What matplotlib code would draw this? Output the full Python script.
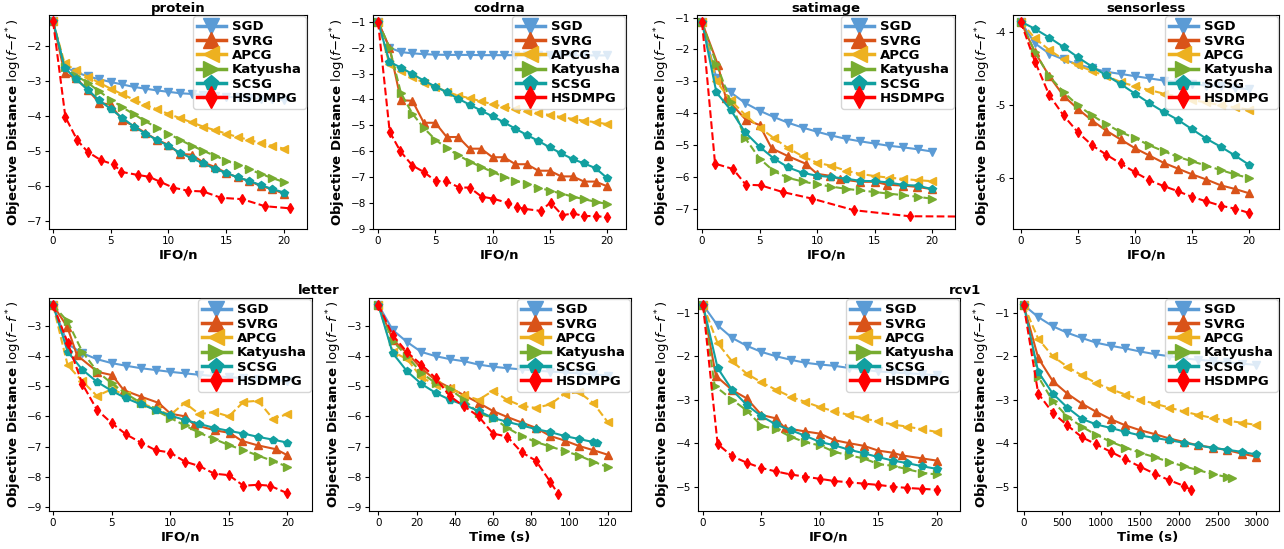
import numpy as np
import matplotlib
matplotlib.use("Agg")
import matplotlib.pyplot as plt

methods = ["SGD", "SVRG", "APCG", "Katyusha", "SCSG", "HSDMPG"]
colors = ["#5b9bd5", "#d95319", "#edb120", "#77ac30", "#11a0a0", "#ff0000"]
styles = ["-", "-", "--", "--", "-", "--"]
markers = ["v", "^", "<", ">", "p", "d"]

# ---- protein (IFO/n) ----
x_int = list(range(21))
protein_x = {m: x_int for m in methods[:5]}
protein_x["HSDMPG"] = [0, 1.07, 2.1, 3.0, 4.15, 5.25, 5.9, 7.35, 8.3, 9.25, 10.4, 11.7,
                       13.0, 14.55, 16.4, 18.35, 20.5]
protein_y = {
    "SGD": [-1.3, -2.6, -2.75, -2.87, -2.95, -3.03, -3.1, -3.17, -3.22, -3.27, -3.31,
            -3.35, -3.37, -3.40, -3.43, -3.45, -3.47, -3.49, -3.51, -3.52, -3.54],
    "SVRG": [-1.3, -2.78, -2.93, -3.25, -3.62, -3.68, -4.12, -4.28, -4.48, -4.68, -4.82,
             -5.08, -5.1, -5.32, -5.45, -5.62, -5.75, -5.85, -6.0, -6.08, -6.22],
    "APCG": [-1.3, -2.5, -2.7, -2.88, -3.05, -3.22, -3.38, -3.53, -3.68, -3.81, -3.94,
             -4.06, -4.18, -4.3, -4.4, -4.5, -4.6, -4.68, -4.77, -4.85, -4.93],
    "Katyusha": [-1.3, -2.6, -2.85, -3.05, -3.3, -3.53, -3.75, -3.95, -4.15, -4.33, -4.5,
                 -4.68, -4.84, -4.99, -5.13, -5.27, -5.4, -5.52, -5.65, -5.77, -5.88],
    "SCSG": [-1.3, -2.62, -2.95, -3.25, -3.55, -3.8, -4.05, -4.3, -4.5, -4.68, -4.85,
             -5.05, -5.2, -5.35, -5.5, -5.62, -5.75, -5.85, -5.97, -6.08, -6.18],
    "HSDMPG": [-1.3, -4.03, -4.69, -5.02, -5.26, -5.38, -5.59, -5.68, -5.73, -5.87, -6.04,
               -6.13, -6.15, -6.33, -6.37, -6.57, -6.63],
}

# ---- codrna (IFO/n) ----
codrna_x = {m: x_int for m in methods[:5]}
codrna_x["HSDMPG"] = [0, 1.02, 1.95, 3.0, 4.0, 5.04, 5.98, 7.08, 8.0, 9.04, 10.06, 11.37,
                      12.1, 12.74, 14.2, 15.07, 16.1, 17.0, 18.0, 19.04, 20.03]
codrna_y = {
    "SGD": [-1.0, -2.0, -2.17, -2.22, -2.25, -2.27, -2.28, -2.28, -2.28, -2.29, -2.29,
            -2.29, -2.29, -2.3, -2.3, -2.3, -2.3, -2.3, -2.3, -2.3, -2.3],
    "SVRG": [-1.0, -2.0, -4.03, -4.05, -4.9, -4.9, -5.45, -5.45, -5.9, -5.9, -6.23,
             -6.23, -6.5, -6.5, -6.75, -6.75, -6.97, -6.97, -7.17, -7.17, -7.35],
    "APCG": [-1.0, -2.65, -2.9, -3.15, -3.35, -3.5, -3.7, -3.85, -3.95, -4.07, -4.18,
             -4.28, -4.37, -4.45, -4.53, -4.6, -4.68, -4.75, -4.82, -4.88, -4.95],
    "Katyusha": [-1.0, -2.0, -3.75, -4.55, -5.1, -5.55, -5.88, -6.15, -6.4, -6.6, -6.8,
                 -6.98, -7.13, -7.27, -7.4, -7.52, -7.63, -7.75, -7.85, -7.95, -8.03],
    "SCSG": [-1.0, -2.55, -2.77, -3.02, -3.27, -3.5, -3.72, -3.97, -4.2, -4.43, -4.65,
             -4.88, -5.13, -5.37, -5.6, -5.85, -6.08, -6.3, -6.47, -6.65, -7.03],
    "HSDMPG": [-1.0, -5.25, -6.0, -6.55, -6.8, -7.15, -7.15, -7.4, -7.4, -7.75, -7.83,
               -8.0, -8.15, -8.22, -8.3, -7.98, -8.47, -8.4, -8.5, -8.5, -8.55],
}

# ---- satimage (IFO/n) ----
x_q = [0, 1.25, 2.5, 3.75, 5, 6.25, 7.5, 8.75, 10, 11.25, 12.5, 13.75, 15, 16.25,
       17.5, 18.75, 20]
satimage_x = {m: x_q for m in methods}
satimage_x["SVRG"] = [0, 1.4, 2.06, 3.8, 5.0, 6.05, 7.5, 9.0, 10.0, 11.1, 12.0, 13.75,
                      15.05, 16.1, 17.5, 18.7, 20]
satimage_x["HSDMPG"] = [0, 1.13, 2.7, 3.8, 5.1, 7.0, 9.6, 13.2, 18.05, 23.0]
satimage_y = {
    "SGD": [-1.15, -2.9, -3.35, -3.68, -3.92, -4.12, -4.3, -4.45, -4.58, -4.7, -4.8,
            -4.88, -4.95, -5.02, -5.07, -5.13, -5.2],
    "SVRG": [-1.15, -2.5, -3.52, -4.2, -4.37, -5.1, -5.35, -5.58, -5.9, -5.96, -6.07,
             -6.15, -6.15, -6.24, -6.27, -6.31, -6.38],
    "APCG": [-1.15, -3.0, -3.6, -4.05, -4.45, -4.78, -5.1, -5.35, -5.55, -5.65, -5.8,
             -5.9, -5.97, -6.02, -6.06, -6.1, -6.13],
    "Katyusha": [-1.15, -2.45, -3.65, -4.78, -5.42, -5.82, -6.03, -6.14, -6.23, -6.3,
                 -6.37, -6.42, -6.47, -6.52, -6.57, -6.62, -6.68],
    "SCSG": [-1.15, -3.35, -3.9, -4.6, -5.05, -5.42, -5.7, -5.87, -5.96, -6.0, -6.05,
             -6.12, -6.13, -6.17, -6.25, -6.27, -6.38],
    "HSDMPG": [-1.15, -5.58, -5.75, -6.24, -6.26, -6.47, -6.68, -7.04, -7.23, -7.24],
}

# ---- sensorless (IFO/n) ----
sensorless_x = {m: x_q for m in methods}
sensorless_y = {
    "SGD": [-3.85, -4.15, -4.29, -4.37, -4.44, -4.49, -4.54, -4.57, -4.6, -4.63, -4.66,
            -4.68, -4.71, -4.73, -4.74, -4.76, -4.78],
    "SVRG": [-3.85, -4.27, -4.6, -4.87, -5.05, -5.21, -5.35, -5.47, -5.59, -5.69, -5.79,
             -5.87, -5.95, -6.02, -6.1, -6.15, -6.21],
    "APCG": [-3.85, -4.08, -4.24, -4.37, -4.45, -4.53, -4.6, -4.68, -4.74, -4.79, -4.84,
             -4.88, -4.93, -4.96, -5.0, -5.03, -5.06],
    "Katyusha": [-3.85, -4.27, -4.6, -4.82, -5.0, -5.14, -5.26, -5.37, -5.45, -5.55,
                 -5.63, -5.71, -5.77, -5.83, -5.89, -5.95, -6.0],
    "SCSG": [-3.85, -3.95, -4.07, -4.2, -4.34, -4.47, -4.59, -4.71, -4.84, -4.97, -5.09,
             -5.2, -5.33, -5.46, -5.57, -5.69, -5.82],
    "HSDMPG": [-3.85, -4.4, -4.86, -5.14, -5.37, -5.55, -5.68, -5.8, -5.92, -6.03, -6.11,
               -6.18, -6.26, -6.32, -6.38, -6.42, -6.48],
}

# ---- letter (IFO/n) ----
letter_x = {m: x_q for m in methods}
letter_x["SVRG"] = [0, 1.22, 2.05, 3.79, 5.04, 6.04, 7.55, 9.0, 10.03, 11.28, 12.05,
                    13.8, 15.1, 16.1, 17.46, 19.03, 20]
letter_x["HSDMPG"] = [0, 1.25, 2.5, 3.75, 5, 6.25, 7.5, 8.75, 10, 11.25, 12.5, 13.75,
                      15, 16.25, 17.5, 18.5, 20]
letter_y = {
    "SGD": [-2.3, -3.6, -3.9, -4.1, -4.23, -4.32, -4.4, -4.46, -4.52, -4.57, -4.62,
            -4.66, -4.7, -4.73, -4.76, -4.79, -4.82],
    "SVRG": [-2.3, -3.03, -3.97, -4.52, -4.63, -5.13, -5.35, -5.55, -5.91, -6.0, -6.28,
             -6.46, -6.55, -6.81, -6.96, -7.09, -7.29],
    "APCG": [-2.3, -4.3, -4.83, -5.32, -5.1, -5.3, -5.55, -5.75, -5.95, -5.55, -5.93,
             -5.85, -6.0, -5.52, -5.48, -6.07, -5.93],
    "Katyusha": [-2.3, -2.85, -3.85, -4.5, -4.9, -5.25, -5.55, -5.8, -6.05, -6.3, -6.55,
                 -6.75, -6.95, -7.12, -7.3, -7.48, -7.67],
    "SCSG": [-2.3, -3.85, -4.45, -4.85, -5.15, -5.4, -5.6, -5.78, -5.97, -6.12, -6.25,
             -6.38, -6.48, -6.57, -6.68, -6.77, -6.87],
    "HSDMPG": [-2.3, -3.55, -4.92, -5.78, -6.22, -6.6, -6.87, -7.12, -7.2, -7.5, -7.65,
               -7.9, -7.95, -8.3, -8.27, -8.3, -8.55],
}

# ---- letter (time) ----
t_letter = [0, 7.5, 15, 22.5, 30, 37.5, 45, 52.5, 60, 67.5, 75, 82.5, 90, 97.5, 105,
            112.5, 120]
letter_t = {m: t_letter for m in methods}
letter_t["SCSG"] = t_letter[:-1] + [114.5]
letter_t["HSDMPG"] = t_letter[:13] + [94]
letter_ty = {
    "SGD": [-2.3, -3.13, -3.53, -3.86, -4.0, -4.1, -4.17, -4.28, -4.35, -4.4, -4.44,
            -4.48, -4.51, -4.54, -4.57, -4.6, -4.65],
    "SVRG": [-2.3, -3.45, -3.9, -4.4, -4.8, -5.05, -5.3, -5.55, -5.82, -6.02, -6.2,
             -6.38, -6.65, -6.8, -6.98, -7.12, -7.27],
    "APCG": [-2.3, -3.85, -4.1, -4.7, -4.95, -5.05, -5.3, -5.45, -5.15, -5.45, -5.65,
             -5.72, -5.6, -5.25, -5.2, -5.55, -6.18],
    "Katyusha": [-2.3, -3.5, -4.0, -4.55, -4.9, -5.1, -5.45, -5.9, -6.05, -6.38, -6.65,
                 -6.85, -7.0, -7.15, -7.3, -7.5, -7.68],
    "SCSG": [-2.3, -3.9, -4.5, -4.92, -5.22, -5.45, -5.62, -5.82, -6.05, -6.18, -6.3,
             -6.42, -6.52, -6.65, -6.75, -6.85, -6.87],
    "HSDMPG": [-2.3, -3.3, -3.87, -4.28, -4.73, -5.33, -5.67, -6.0, -6.57, -6.67, -7.19,
               -7.47, -8.17, -8.56],
}

# ---- rcv1 (IFO/n) ----
rcv1_x = {m: x_q for m in methods}
rcv1_x["SVRG"] = [0, 1.1, 2.5, 3.75, 5, 6.25, 7.0, 8.75, 10, 11.25, 12.5, 13.75, 15,
                  16.25, 17.0, 18.75, 20]
rcv1_x["Katyusha"] = [0, 1.0] + x_q[2:]
rcv1_y = {
    "SGD": [-0.82, -1.29, -1.58, -1.76, -1.9, -2.0, -2.08, -2.15, -2.19, -2.22, -2.27,
            -2.31, -2.35, -2.37, -2.39, -2.41, -2.44],
    "SVRG": [-0.82, -2.45, -2.78, -2.97, -3.35, -3.43, -3.65, -3.73, -3.78, -3.93, -4.0,
             -4.06, -4.17, -4.22, -4.28, -4.35, -4.4],
    "APCG": [-0.82, -1.7, -2.12, -2.4, -2.6, -2.77, -2.93, -3.05, -3.17, -3.27, -3.35,
             -3.43, -3.5, -3.57, -3.62, -3.68, -3.74],
    "Katyusha": [-0.82, -2.68, -3.0, -3.25, -3.6, -3.68, -3.85, -3.98, -4.05, -4.2, -4.28,
                 -4.35, -4.48, -4.52, -4.6, -4.68, -4.72],
    "SCSG": [-0.82, -2.27, -2.78, -3.12, -3.38, -3.57, -3.7, -3.83, -3.97, -4.05, -4.15,
             -4.23, -4.32, -4.4, -4.46, -4.53, -4.59],
    "HSDMPG": [-0.82, -4.02, -4.3, -4.45, -4.57, -4.65, -4.72, -4.77, -4.82, -4.87, -4.9,
               -4.93, -4.96, -5.0, -5.03, -5.05, -5.07],
}

# ---- rcv1 (time) ----
t_rcv1 = [0, 188, 375, 563, 750, 938, 1125, 1313, 1500, 1688, 1875, 2063, 2250, 2438,
          2625, 2813, 3000]
rcv1_t = {m: t_rcv1 for m in methods}
rcv1_t["Katyusha"] = t_rcv1[:15] + [2690]
rcv1_t["HSDMPG"] = t_rcv1[:12] + [2155]
rcv1_ty = {
    "SGD": [-0.82, -1.1, -1.31, -1.46, -1.58, -1.69, -1.76, -1.82, -1.89, -1.95, -2.0,
            -2.05, -2.08, -2.11, -2.14, -2.17, -2.2],
    "SVRG": [-0.82, -2.04, -2.57, -2.86, -3.09, -3.28, -3.45, -3.59, -3.7, -3.79, -3.89,
             -3.97, -4.05, -4.1, -4.16, -4.24, -4.31],
    "APCG": [-0.82, -1.6, -2.0, -2.24, -2.44, -2.62, -2.76, -2.88, -3.0, -3.09, -3.18,
             -3.27, -3.35, -3.42, -3.48, -3.53, -3.58],
    "Katyusha": [-0.82, -2.47, -3.03, -3.39, -3.62, -3.81, -3.97, -4.1, -4.22, -4.32,
                 -4.43, -4.53, -4.62, -4.71, -4.78, -4.81],
    "SCSG": [-0.82, -2.36, -2.86, -3.18, -3.44, -3.57, -3.65, -3.74, -3.82, -3.88, -3.93,
             -3.99, -4.05, -4.11, -4.15, -4.2, -4.26],
    "HSDMPG": [-0.82, -2.86, -3.3, -3.59, -3.86, -4.03, -4.2, -4.37, -4.54, -4.7, -4.85,
               -4.98, -5.07],
}

W, H = 1284, 549
fig = plt.figure(figsize=(W / 100, H / 100), dpi=100)


def px_axes(left, right, top, bottom):
    return fig.add_axes([left / W, 1 - bottom / H, (right - left) / W, (bottom - top) / H])


def draw(ax, xs, ys, xlim, ylim, yticks, xticks, xlabel, title=None, hyphen=False):
    for m, c, ls, mk in zip(methods, colors, styles, markers):
        ax.plot(xs[m], ys[m], color=c, linestyle=ls, marker=mk, markersize=5.5,
                linewidth=1.5, label=m)
    ax.set_xlim(xlim)
    ax.set_ylim(ylim)
    ax.set_xticks(xticks)
    if hyphen:
        ax.set_yticks(yticks, [str(v) for v in yticks])
    else:
        ax.set_yticks(yticks)
    ax.tick_params(labelsize=7.5, length=3, pad=2)
    ax.set_xlabel(xlabel, fontsize=9.5, fontweight="bold", labelpad=2)
    ax.set_ylabel(r"Objective Distance $\log(f\!-\!f^*)$", fontsize=9.5,
                  fontweight="bold", labelpad=2)
    if title:
        ax.set_title(title, fontsize=9.5, fontweight="bold", pad=2)
    leg = ax.legend(loc="upper right", prop={"weight": "bold", "size": 9.5},
                    markerscale=2.0, borderaxespad=0.1, labelspacing=0.1,
                    handlelength=2.2, handletextpad=0.45, borderpad=0.3)
    for ln in leg.get_lines():
        ln.set_linewidth(2.5)
        ln.set_linestyle("-")


ifo_ticks = [0, 5, 10, 15, 20]
ax1 = px_axes(49, 307, 15, 229)
draw(ax1, protein_x, protein_y, (-0.35, 22.0), (-7.22, -1.12), [-2, -3, -4, -5, -6, -7],
     ifo_ticks, "IFO/n", "protein")
ax2 = px_axes(373, 626, 15, 229)
draw(ax2, codrna_x, codrna_y, (-0.44, 21.66), (-9.0, -0.74), list(range(-1, -10, -1)),
     ifo_ticks, "IFO/n", "codrna")
ax3 = px_axes(697, 955, 15, 229)
draw(ax3, satimage_x, satimage_y, (-0.44, 22.0), (-7.63, -0.92), list(range(-1, -8, -1)),
     ifo_ticks, "IFO/n", "satimage")
ax4 = px_axes(1013, 1279, 15, 229)
draw(ax4, sensorless_x, sensorless_y, (-0.67, 22.6), (-6.70, -3.76), [-4, -5, -6],
     ifo_ticks, "IFO/n", "sensorless", hyphen=True)

ax5 = px_axes(49, 312, 298, 511)
draw(ax5, letter_x, letter_y, (-0.34, 22.1), (-9.14, -2.07), list(range(-3, -10, -1)),
     ifo_ticks, "IFO/n")
ax6 = px_axes(369, 631, 298, 511)
draw(ax6, letter_t, letter_ty, (-4.9, 132.3), (-9.14, -2.07), list(range(-3, -10, -1)),
     list(range(0, 121, 20)), "Time (s)")
ax7 = px_axes(698, 960, 298, 511)
draw(ax7, rcv1_x, rcv1_y, (-0.43, 22.0), (-5.56, -0.66), list(range(-1, -6, -1)),
     ifo_ticks, "IFO/n")
ax8 = px_axes(1017, 1279, 298, 511)
draw(ax8, rcv1_t, rcv1_ty, (-86, 3293), (-5.56, -0.66), list(range(-1, -6, -1)),
     list(range(0, 3001, 500)), "Time (s)")

fig.text(319 / W, 1 - 291 / H, "letter", ha="center", va="center", fontsize=9.5,
         fontweight="bold")
fig.text(965 / W, 1 - 291 / H, "rcv1", ha="center", va="center", fontsize=9.5,
         fontweight="bold")

fig.savefig("out.png", dpi=100)
